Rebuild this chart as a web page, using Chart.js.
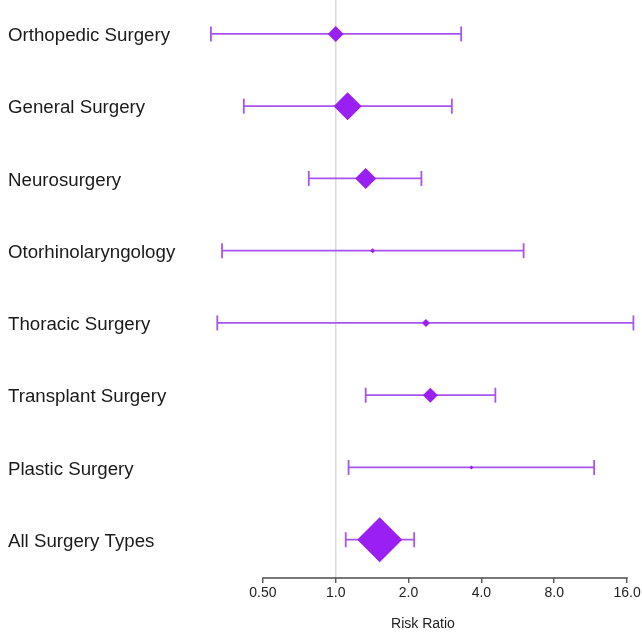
<!DOCTYPE html>
<html>
<head>
<meta charset="utf-8">
<script src="https://cdn.jsdelivr.net/npm/chart.js@4/dist/chart.umd.min.js"></script>
<style>
  html, body { margin: 0; padding: 0; background: #ffffff; }
  #wrap { width: 642px; height: 633px; }
</style>
</head>
<body>
<div id="wrap"><canvas id="c" width="642" height="633"></canvas></div>
<script>
// ---- data ----
const categories = [
  "Orthopedic Surgery",
  "General Surgery",
  "Neurosurgery",
  "Otorhinolaryngology",
  "Thoracic Surgery",
  "Transplant Surgery",
  "Plastic Surgery",
  "All Surgery Types"
];
const riskRatio = [1.00, 1.12, 1.33, 1.42, 2.36, 2.46, 3.64, 1.52];
const lowerCI   = [0.305, 0.417, 0.774, 0.339, 0.324, 1.33, 1.13, 1.10];
const upperCI   = [3.30, 3.02, 2.26, 5.98, 17.0, 4.57, 11.7, 2.11];
const weights   = [28, 87, 49, 2.8, 7, 25, 1.8, 225];   // relative study weight (marker area)
const tickValues = [0.5, 1, 2, 4, 8, 16];
const tickLabels = ["0.50", "1.0", "2.0", "4.0", "8.0", "16.0"];
const axisTitle = "Risk Ratio";

// ---- build datasets from the arrays ----
const whiskerPoints = [];
categories.forEach((c, i) => {
  whiskerPoints.push({ x: lowerCI[i], y: i });
  whiskerPoints.push({ x: upperCI[i], y: i });
  whiskerPoints.push({ x: null, y: null });
});
const estimatePoints = categories.map((c, i) => ({ x: riskRatio[i], y: i }));

const FONT = "'Liberation Sans', Arial, Helvetica, sans-serif";
const WHISKER = "#a854f0";
const DIAMOND = "#9a1ff2";

const axisLinePlugin = {
  id: "axisLine",
  afterDraw(chart) {
    const s = chart.scales.x;
    const ctx = chart.ctx;
    ctx.save();
    ctx.strokeStyle = "#4a4a4a";
    ctx.lineWidth = 1.3;
    ctx.beginPath();
    ctx.moveTo(s.getPixelForValue(tickValues[0]) - 0.6, s.top);
    ctx.lineTo(s.getPixelForValue(tickValues[tickValues.length - 1]) + 0.6, s.top);
    ctx.stroke();
    ctx.restore();
  }
};

function zeroPadding(scale) {
  scale.paddingTop = 0;
  scale.paddingBottom = 0;
  scale.paddingLeft = 0;
  scale.paddingRight = 0;
}

new Chart(document.getElementById("c"), {
  type: "scatter",
  data: {
    datasets: [
      {
        label: "Risk ratio",
        data: estimatePoints,
        order: 0,
        pointStyle: "rectRot",
        pointRadius: (ctx) => 1.5 * Math.sqrt(weights[ctx.dataIndex] || 0),
        pointHoverRadius: (ctx) => 1.5 * Math.sqrt(weights[ctx.dataIndex] || 0),
        pointBackgroundColor: DIAMOND,
        pointBorderColor: DIAMOND,
        pointBorderWidth: 0,
        showLine: false,
        clip: false
      },
      {
        label: "95% CI",
        data: whiskerPoints,
        order: 1,
        showLine: true,
        spanGaps: false,
        borderColor: WHISKER,
        borderWidth: 1.8,
        pointStyle: "line",
        pointRotation: 90,
        pointRadius: 7.5,
        pointHoverRadius: 7.5,
        pointBorderColor: WHISKER,
        pointBorderWidth: 1.8,
        pointBackgroundColor: WHISKER,
        clip: false
      }
    ]
  },
  options: {
    responsive: false,
    animation: false,
    devicePixelRatio: 1,
    events: [],
    layout: { autoPadding: false, padding: { left: 8, right: 2, top: 0, bottom: 0 } },
    plugins: {
      legend: { display: false },
      tooltip: { enabled: false },
      title: { display: false }
    },
    scales: {
      x: {
        type: "logarithmic",
        position: "bottom",
        min: 0.291,
        max: 18.1,
        afterBuildTicks: (scale) => { scale.ticks = tickValues.map(v => ({ value: v })); },
        afterFit: (scale) => { scale.height = 55; zeroPadding(scale); },
        ticks: {
          autoSkip: false,
          maxRotation: 0,
          padding: 2,
          color: "#222222",
          font: { family: FONT, size: 14 },
          callback: (value, index) => tickLabels[index]
        },
        grid: {
          display: true,
          drawOnChartArea: true,
          drawTicks: true,
          tickLength: 5,
          tickColor: "#4a4a4a",
          tickWidth: 1.3,
          lineWidth: 1.5,
          color: (ctx) => (ctx.tick && ctx.tick.value === 1) ? "#d9d9d9" : "rgba(0,0,0,0)"
        },
        border: { display: false },
        title: {
          display: true,
          text: axisTitle,
          color: "#222222",
          font: { family: FONT, size: 14 },
          padding: { top: 0, bottom: 0.6 }
        }
      },
      y: {
        type: "linear",
        reverse: true,
        min: -0.47,
        max: 7.53,
        afterBuildTicks: (scale) => { scale.ticks = categories.map((c, i) => ({ value: i })); },
        afterFit: (scale) => { scale.width = 198; zeroPadding(scale); },
        ticks: {
          autoSkip: false,
          crossAlign: "far",
          padding: 0,
          labelOffset: 2,
          color: "#1a1a1a",
          font: { family: FONT, size: 18.7 },
          callback: (value) => categories[Math.round(value)]
        },
        grid: { display: false, drawTicks: false },
        border: { display: false }
      }
    }
  },
  plugins: [axisLinePlugin]
});
</script>
</body>
</html>
